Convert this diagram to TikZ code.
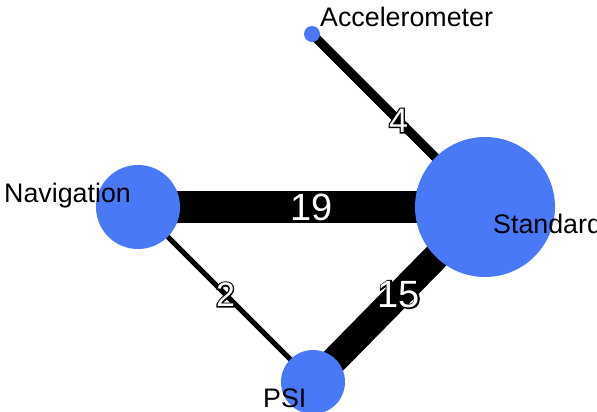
\documentclass[tikz,border=0pt]{standalone}
\usepackage{fontspec}
\setmainfont{Liberation Sans}
\usetikzlibrary{backgrounds}
\definecolor{dotblue}{RGB}{74,121,248}
% black stroke under, white fill on top
\newcommand{\outlined}[1]{\rlap{\special{pdf:literal direct 1 Tr 2.6 w 0 G}#1\special{pdf:literal direct 0 Tr}}{\color{white}#1}}
\tikzset{
    station/.style={circle, fill=dotblue, inner sep=0pt},
    name label/.style={font=\fontsize{26.8}{30}\selectfont, inner sep=0pt},
    link/.style={line width=#1, draw=black},
    weight/.style={font=\fontsize{#1}{#1}\selectfont, inner sep=0pt},
}
\begin{document}
\begin{tikzpicture}[x=1pt, y=-1pt]
    \useasboundingbox (0,0) rectangle (597,412);
    \clip (0,0) rectangle (597,412);

    \node[station, minimum size=16pt] (acc) at (312,34) {};
    \node[station, minimum size=140pt] (std) at (485,207) {};
    \node[station, minimum size=84pt] (nav) at (138,207) {};
    \node[station, minimum size=64pt] (psi) at (313,382) {};

    \begin{pgfonlayer}{background}
        \draw[link=9pt] (acc.center) -- (std.center)
            node[midway, weight=34] (w4) {\outlined{4}};
        \draw[link=32pt] (nav.center) -- (std.center)
            node[midway, weight=38] (w19) {\outlined{19}};
        \draw[link=5pt] (nav.center) -- (psi.center)
            node[midway, weight=34] (w2) {\outlined{2}};
        \draw[link=27pt] (std.center) -- (psi.center)
            node[midway, weight=38] (w15) {\outlined{15}};
    \end{pgfonlayer}

    \node[name label, anchor=base west] (accname) at (320,27) {Accelerometer};
    \node[name label, anchor=base west] (navname) at (4,202) {Navigation};
    \node[name label, anchor=base west] (stdname) at (493,233) {Standard};
    \node[name label, anchor=base west] (psiname) at (263,407) {PSI};
\end{tikzpicture}
\end{document}
